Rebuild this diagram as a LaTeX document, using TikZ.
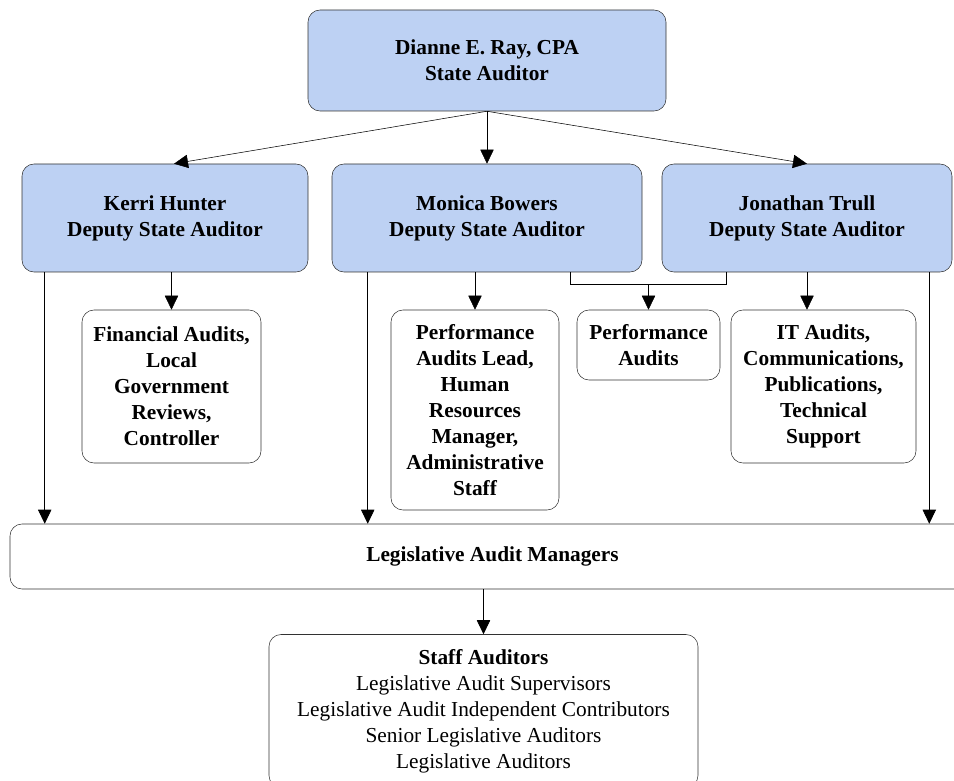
\documentclass[tikz,border=0pt]{standalone}
\usepackage{fontspec}
\setmainfont{Liberation Serif}
\usetikzlibrary{arrows.meta,calc}
\definecolor{headblue}{RGB}{189,209,243}
\definecolor{edgegray}{RGB}{50,50,50}
\begin{document}
\begin{tikzpicture}[x=0.75pt,y=-0.75pt,
    main/.style = {draw=edgegray, rounded corners=9pt, align=center, inner sep=0pt,
                   font=\fontsize{16}{19.5}\selectfont\bfseries},
    head/.style = {main, fill=headblue},
    arr/.style = {-{Triangle[length=10.5pt,width=10pt]}}]
    \clip (0,0) rectangle (954,781);

    \node[head, minimum width=268.5pt, minimum height=75.75pt] (ray) at (487,60.5) {Dianne E. Ray, CPA\\State Auditor};
    \node[head, minimum width=214.5pt, minimum height=81pt] (kerri) at (165,218) {Kerri Hunter\\Deputy State Auditor};
    \node[head, minimum width=232.5pt, minimum height=81pt] (monica) at (487,218) {Monica Bowers\\Deputy State Auditor};
    \node[head, minimum width=217.5pt, minimum height=81pt] (jonathan) at (807,218) {Jonathan Trull\\Deputy State Auditor};

    \node[main, minimum width=134.25pt, minimum height=114.75pt] (financial) at (171.5,386.5) {Financial Audits,\\Local\\Government\\Reviews,\\Controller};
    \node[main, minimum width=126pt, minimum height=150pt] (perflead) at (475,410) {Performance\\Audits Lead,\\Human\\Resources\\Manager,\\Administrative\\Staff};
    \node[main, minimum width=107.25pt, minimum height=52.5pt] (perfaudits) at (648.5,345) {Performance\\Audits};
    \node[main, minimum width=138.75pt, minimum height=114.75pt] (itaudits) at (823.5,386.5) {IT Audits,\\Communications,\\Publications,\\Technical\\Support};

    \node[main, minimum width=723.75pt, minimum height=48.75pt] (lam) at (492.5,556.5) {Legislative Audit Managers};
    \node[main, minimum width=321.75pt, minimum height=114.75pt, font=\fontsize{16}{19.5}\selectfont] (staff) at (483.5,711)
        {\textbf{Staff Auditors}\\Legislative Audit Supervisors\\Legislative Audit Independent Contributors\\Senior Legislative Auditors\\Legislative Auditors};

    % top level
    \draw[arr] (ray.south) -- ($(kerri.north)+(9,0)$);
    \draw[arr] (ray.south) -- (monica.north);
    \draw[arr] (ray.south) -- (jonathan.north);

    % deputies to units
    \draw[arr] (financial.north |- kerri.south) -- (financial.north);
    \draw[arr] (perflead.north |- monica.south) -- (perflead.north);
    \draw[arr] (jonathan.south) -- (jonathan.south |- itaudits.north);
    \coordinate (join) at ($(perfaudits.north)+(0,-25)$);
    \draw ($(monica.south)+(83,0)$) |- (join) -| ($(jonathan.south)+(-81,0)$);
    \draw[arr] (join) -- (perfaudits.north);

    % deputies to managers
    \coordinate (kdown) at ($(kerri.south west)+(23,0)$);
    \coordinate (mdown) at ($(monica.south west)+(36,0)$);
    \coordinate (jdown) at ($(jonathan.south east)+(-23,0)$);
    \draw[arr] (kdown) -- (kdown |- lam.north);
    \draw[arr] (mdown) -- (mdown |- lam.north);
    \draw[arr] (jdown) -- (jdown |- lam.north);
    \draw[arr] (staff.north |- lam.south) -- (staff.north);
\end{tikzpicture}
\end{document}
